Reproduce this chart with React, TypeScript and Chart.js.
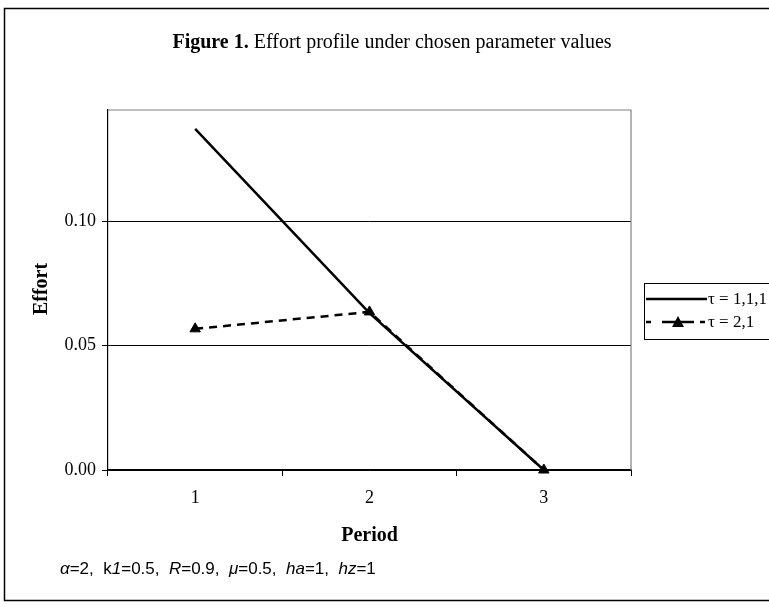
import React, { useEffect, useRef } from "react";
import { Chart, registerables } from "chart.js";

Chart.register(...registerables);

const periods = ["1", "2", "3"];
const tau111 = [0.137, 0.063, 0.0];
const tau21 = [0.0567, 0.0635, 0.0];
const yTicks = [0, 0.05, 0.1];
const seriesLabels = ["τ = 1,1,1", "τ = 2,1"];
const titleBold = "Figure 1.";
const titleRest = " Effort profile under chosen parameter values";
const footnote: { t: string; i?: boolean }[] = [
  { t: "α", i: true },
  { t: "=2,  k" },
  { t: "1", i: true },
  { t: "=0.5,  " },
  { t: "R", i: true },
  { t: "=0.9,  " },
  { t: "μ", i: true },
  { t: "=0.5,  " },
  { t: "ha", i: true },
  { t: "=1,  " },
  { t: "hz", i: true },
  { t: "=1" },
];

const SERIF = "'Liberation Serif', 'Times New Roman', serif";
const SANS = "'Liberation Sans', Arial, sans-serif";

const decorPlugin = {
  id: "decor",
  beforeDraw(chart: any) {
    const ctx = chart.ctx;
    ctx.save();
    ctx.fillStyle = "#fff";
    ctx.fillRect(0, 0, chart.width, chart.height);
    ctx.restore();
  },
  afterDraw(chart: any) {
    const ctx = chart.ctx;
    const a = chart.chartArea;
    ctx.save();
    // outer border
    ctx.strokeStyle = "#000";
    ctx.lineWidth = 1.5;
    ctx.strokeRect(4.5, 8.5, 800, 592);
    // plot area top/right border (gray)
    ctx.strokeStyle = "#808080";
    ctx.lineWidth = 1.2;
    ctx.beginPath();
    ctx.moveTo(a.left, a.top);
    ctx.lineTo(a.right, a.top);
    ctx.lineTo(a.right, a.bottom);
    ctx.stroke();

    // title
    ctx.fillStyle = "#000";
    ctx.textBaseline = "alphabetic";
    ctx.font = `bold 20px ${SERIF}`;
    const w1 = ctx.measureText(titleBold).width;
    ctx.font = `20px ${SERIF}`;
    const w2 = ctx.measureText(titleRest).width;
    const tx = 392 - (w1 + w2) / 2;
    ctx.font = `bold 20px ${SERIF}`;
    ctx.fillText(titleBold, tx, 48);
    ctx.font = `20px ${SERIF}`;
    ctx.fillText(titleRest, tx + w1, 48);

    // axis titles
    ctx.font = `bold 20px ${SERIF}`;
    ctx.textAlign = "center";
    ctx.textBaseline = "middle";
    ctx.fillText("Period", (a.left + a.right) / 2, 536);
    ctx.save();
    ctx.translate(42, 289);
    ctx.rotate(-Math.PI / 2);
    ctx.fillText("Effort", 0, 0);
    ctx.restore();

    // footnote
    ctx.textAlign = "left";
    ctx.textBaseline = "alphabetic";
    let fx = 60;
    for (const p of footnote) {
      ctx.font = `${p.i ? "italic " : ""}17px ${SANS}`;
      ctx.fillText(p.t, fx, 574);
      fx += ctx.measureText(p.t).width;
    }

    // legend
    const lx = 644, ly = 283, lw = 140, lh = 56;
    ctx.strokeStyle = "#000";
    ctx.lineWidth = 1;
    ctx.strokeRect(lx + 0.5, ly + 0.5, lw, lh);
    const r1 = 299, r2 = 322;
    ctx.lineWidth = 2.5;
    ctx.beginPath();
    ctx.moveTo(646, r1);
    ctx.lineTo(707, r1);
    ctx.stroke();
    const segs = [
      [646, 651],
      [662, 694],
      [700, 705],
    ];
    for (const [s, e] of segs) {
      ctx.beginPath();
      ctx.moveTo(s, r2);
      ctx.lineTo(e, r2);
      ctx.stroke();
    }
    ctx.beginPath();
    ctx.moveTo(678, r2 - 6);
    ctx.lineTo(684, r2 + 5);
    ctx.lineTo(672, r2 + 5);
    ctx.closePath();
    ctx.fill();
    ctx.font = `17px ${SERIF}`;
    ctx.textBaseline = "middle";
    ctx.fillText(seriesLabels[0], 708, r1 + 1);
    ctx.fillText(seriesLabels[1], 708, r2 + 1);
    ctx.restore();
  },
};

export default function App() {
  const ref = useRef<HTMLCanvasElement>(null);
  useEffect(() => {
    document.body.style.margin = "0";
    const chart = new Chart(ref.current!, {
      type: "line",
      data: {
        labels: periods,
        datasets: [
          {
            label: seriesLabels[0],
            data: tau111,
            borderColor: "#000",
            backgroundColor: "#000",
            borderWidth: 2.5,
            pointRadius: 0,
            tension: 0,
            clip: false as any,
          },
          {
            label: seriesLabels[1],
            data: tau21,
            borderColor: "#000",
            backgroundColor: "#000",
            borderWidth: 2.5,
            borderDash: [8, 6],
            pointStyle: "triangle",
            pointRadius: 6,
            pointBorderWidth: 1,
            tension: 0,
            clip: false as any,
          },
        ],
      },
      options: {
        animation: false,
        responsive: false,
        devicePixelRatio: 1,
        layout: { padding: { left: 0, right: 138, top: 110, bottom: 87 } },
        plugins: {
          legend: { display: false },
          title: { display: false },
          tooltip: { enabled: false },
        },
        scales: {
          x: {
            offset: true,
            grid: {
              offset: true,
              drawOnChartArea: false,
              tickLength: 6,
              color: "#000",
            },
            border: { color: "#000", width: 1.2 },
            ticks: {
              color: "#000",
              font: { family: SERIF, size: 18 },
              padding: 11,
            },
            afterFit(s: any) {
              s.height = 50;
            },
          },
          y: {
            min: 0,
            max: 0.1446,
            afterBuildTicks(s: any) {
              s.ticks = yTicks.map((v) => ({ value: v }));
            },
            grid: { color: "#000", tickLength: 6, lineWidth: 1 },
            border: { color: "#000", width: 1.2 },
            ticks: {
              color: "#000",
              font: { family: SERIF, size: 18 },
              padding: 6,
              callback: (v: any) => Number(v).toFixed(2),
            },
            afterFit(s: any) {
              s.width = 108;
            },
          },
        },
      },
      plugins: [decorPlugin],
    });
    return () => chart.destroy();
  }, []);
  return (
    <div style={{ position: "fixed", left: 0, top: 0, width: 769, height: 607 }}>
      <canvas ref={ref} width={769} height={607} />
    </div>
  );
}
